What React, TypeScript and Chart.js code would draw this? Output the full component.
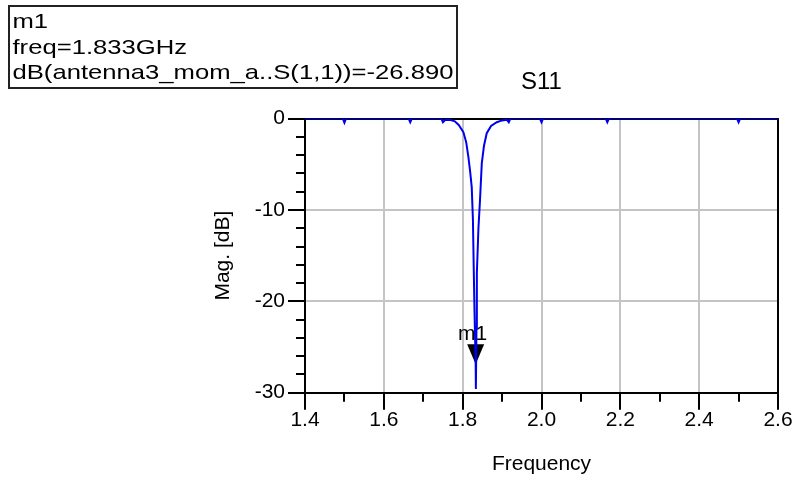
import React, { useEffect, useRef } from 'react';
import { Chart, registerables } from 'chart.js';

Chart.register(...registerables);

// S11 trace: frequency (GHz) and magnitude (dB)
const freqGHz = [
  1.4, 1.496, 1.5, 1.504, 1.663, 1.667, 1.671, 1.746, 1.75, 1.756, 1.77, 1.78,
  1.79, 1.802, 1.809, 1.8145, 1.819, 1.823, 1.826, 1.828, 1.83, 1.833, 1.8335,
  1.835, 1.836, 1.84, 1.844, 1.8485, 1.854, 1.861, 1.872, 1.8865, 1.9, 1.912,
  1.917, 1.921, 1.996, 2.0, 2.004, 2.163, 2.167, 2.171, 2.496, 2.5, 2.504, 2.6,
];
const s11dB = [
  0, 0, -0.45, 0, 0, -0.4, 0, 0, -0.4, -0.12, -0.15, -0.3,
  -0.7, -1.5, -2.6, -4.2, -5.8, -7.5, -11.0, -16.2, -21.0, -26.89, -29.6,
  -23.0, -16.9, -12.0, -8.9, -4.9, -3.0, -1.6, -0.8, -0.4, -0.2, -0.12,
  -0.4, 0, 0, -0.4, 0, 0, -0.4, 0, 0, -0.4, 0, 0,
];

const xMajorTicks = [1.4, 1.6, 1.8, 2.0, 2.2, 2.4, 2.6];
const xMinorTicks = [1.5, 1.7, 1.9, 2.1, 2.3, 2.5];
const yMajorTicks = [0, -10, -20, -30];
const yMinorTicks = [-2, -4, -6, -8, -12, -14, -16, -18, -22, -24, -26, -28];

const chartTitle = 'S11';
const xTitle = 'Frequency';
const yTitle = 'Mag. [dB]';

const markerName = 'm1';
const markerFreq = 1.833;
const markerValue = -26.89;
const markerLines = ['m1', 'freq=1.833GHz', 'dB(antenna3_mom_a..S(1,1))=-26.890'];

const FONT = '"Liberation Sans", Arial, sans-serif';

const adsPlugin = {
  id: 'adsDecor',
  beforeDatasetsDraw(chart: any) {
    const { ctx, chartArea: a, scales } = chart;
    const x = scales.x;
    const y = scales.y;
    ctx.save();
    ctx.strokeStyle = '#000';
    ctx.lineWidth = 2;
    // top and right frame
    ctx.beginPath();
    ctx.moveTo(a.left, Math.round(a.top));
    ctx.lineTo(Math.round(a.right), Math.round(a.top));
    ctx.lineTo(Math.round(a.right), a.bottom);
    ctx.stroke();
    // minor ticks
    ctx.beginPath();
    xMinorTicks.forEach((v) => {
      const px = Math.round(x.getPixelForValue(v));
      ctx.moveTo(px, a.bottom);
      ctx.lineTo(px, a.bottom + 9);
    });
    yMinorTicks.forEach((v) => {
      const py = Math.round(y.getPixelForValue(v));
      ctx.moveTo(a.left - 9, py);
      ctx.lineTo(a.left, py);
    });
    ctx.stroke();
    // marker
    const tx = x.getPixelForValue(markerFreq);
    const ty = y.getPixelForValue(markerValue);
    ctx.fillStyle = '#000';
    ctx.beginPath();
    ctx.moveTo(tx, ty);
    ctx.lineTo(tx - 8.5, ty - 20);
    ctx.lineTo(tx + 8.5, ty - 20);
    ctx.closePath();
    ctx.fill();
    ctx.font = '21px ' + FONT;
    ctx.textAlign = 'center';
    ctx.textBaseline = 'alphabetic';
    ctx.fillText(markerName, tx - 3, ty - 24);
    ctx.restore();
  },
  afterDraw(chart: any) {
    const { ctx } = chart;
    ctx.save();
    ctx.strokeStyle = '#222';
    ctx.lineWidth = 2;
    ctx.strokeRect(9, 6, 448, 82);
    ctx.font = '21px ' + FONT;
    ctx.fillStyle = '#000';
    ctx.textAlign = 'left';
    ctx.textBaseline = 'alphabetic';
    const w = ctx.measureText(markerLines[2]).width;
    const sx = 441 / w;
    const baselines = [28, 53.5, 79];
    markerLines.forEach((line, i) => {
      ctx.save();
      ctx.translate(12.5, baselines[i]);
      ctx.scale(sx, 1);
      ctx.fillText(line, 0, 0);
      ctx.restore();
    });
    ctx.restore();
  },
};

export default function App() {
  const ref = useRef<HTMLCanvasElement | null>(null);

  useEffect(() => {
    document.body.style.margin = '0';
    const canvas = ref.current;
    if (!canvas) return;
    const edgeX = (c: any) =>
      c.tick && (c.tick.value === 1.4 || c.tick.value === 2.6) ? 'rgba(0,0,0,0)' : '#c4c4c4';
    const edgeY = (c: any) =>
      c.tick && (c.tick.value === 0 || c.tick.value === -30) ? 'rgba(0,0,0,0)' : '#c4c4c4';

    const chart = new Chart(canvas, {
      type: 'line',
      data: {
        datasets: [
          {
            data: freqGHz.map((f, i) => ({ x: f, y: s11dB[i] })),
            borderColor: '#0000ee',
            borderWidth: 2,
            pointRadius: 0,
            tension: 0,
            fill: false,
          },
        ],
      },
      options: {
        animation: false,
        responsive: false,
        devicePixelRatio: 1,
        layout: { padding: { left: 0, right: 18, top: 0, bottom: 0 } },
        plugins: {
          legend: { display: false },
          tooltip: { enabled: false },
          title: {
            display: true,
            text: chartTitle,
            fullSize: false,
            color: '#000',
            font: { family: FONT, size: 24, weight: 'normal', lineHeight: 1.15 },
            padding: { top: 69, bottom: 22 },
          },
        },
        scales: {
          x: {
            type: 'linear',
            min: 1.4,
            max: 2.6,
            afterBuildTicks: (s: any) => {
              s.ticks = xMajorTicks.map((v) => ({ value: v }));
            },
            afterFit: (s: any) => {
              s.height = 87.3;
            },
            ticks: {
              autoSkip: false,
              maxRotation: 0,
              padding: 0,
              color: '#000',
              font: { family: FONT, size: 21, lineHeight: 1 },
              callback: (v: any) => Number(v).toFixed(1),
            },
            grid: {
              color: edgeX,
              lineWidth: 2,
              tickColor: '#000',
              tickWidth: 2,
              tickLength: 17,
            },
            border: { display: true, color: '#000', width: 2 },
            title: {
              display: true,
              text: xTitle,
              color: '#000',
              font: { family: FONT, size: 21, lineHeight: 1.2 },
              padding: { top: 0, bottom: 3.4 },
            },
          },
          y: {
            type: 'linear',
            min: -30,
            max: 0,
            afterBuildTicks: (s: any) => {
              s.ticks = yMajorTicks.map((v) => ({ value: v }));
            },
            afterFit: (s: any) => {
              s.width = 305;
            },
            ticks: {
              autoSkip: false,
              padding: 3,
              color: '#000',
              font: { family: FONT, size: 21, lineHeight: 1 },
              callback: (v: any) => String(v),
            },
            grid: {
              color: edgeY,
              lineWidth: 2,
              tickColor: '#000',
              tickWidth: 2,
              tickLength: 17,
            },
            border: { display: true, color: '#000', width: 2 },
            title: {
              display: true,
              text: yTitle,
              color: '#000',
              font: { family: FONT, size: 21, lineHeight: 1.2 },
              padding: { top: 211, bottom: 0 },
            },
          },
        },
      },
      plugins: [adsPlugin],
    });
    return () => chart.destroy();
  }, []);

  return (
    <div style={{ width: 796, height: 480, background: '#fff' }}>
      <canvas ref={ref} width={796} height={480} style={{ display: 'block' }} />
    </div>
  );
}
